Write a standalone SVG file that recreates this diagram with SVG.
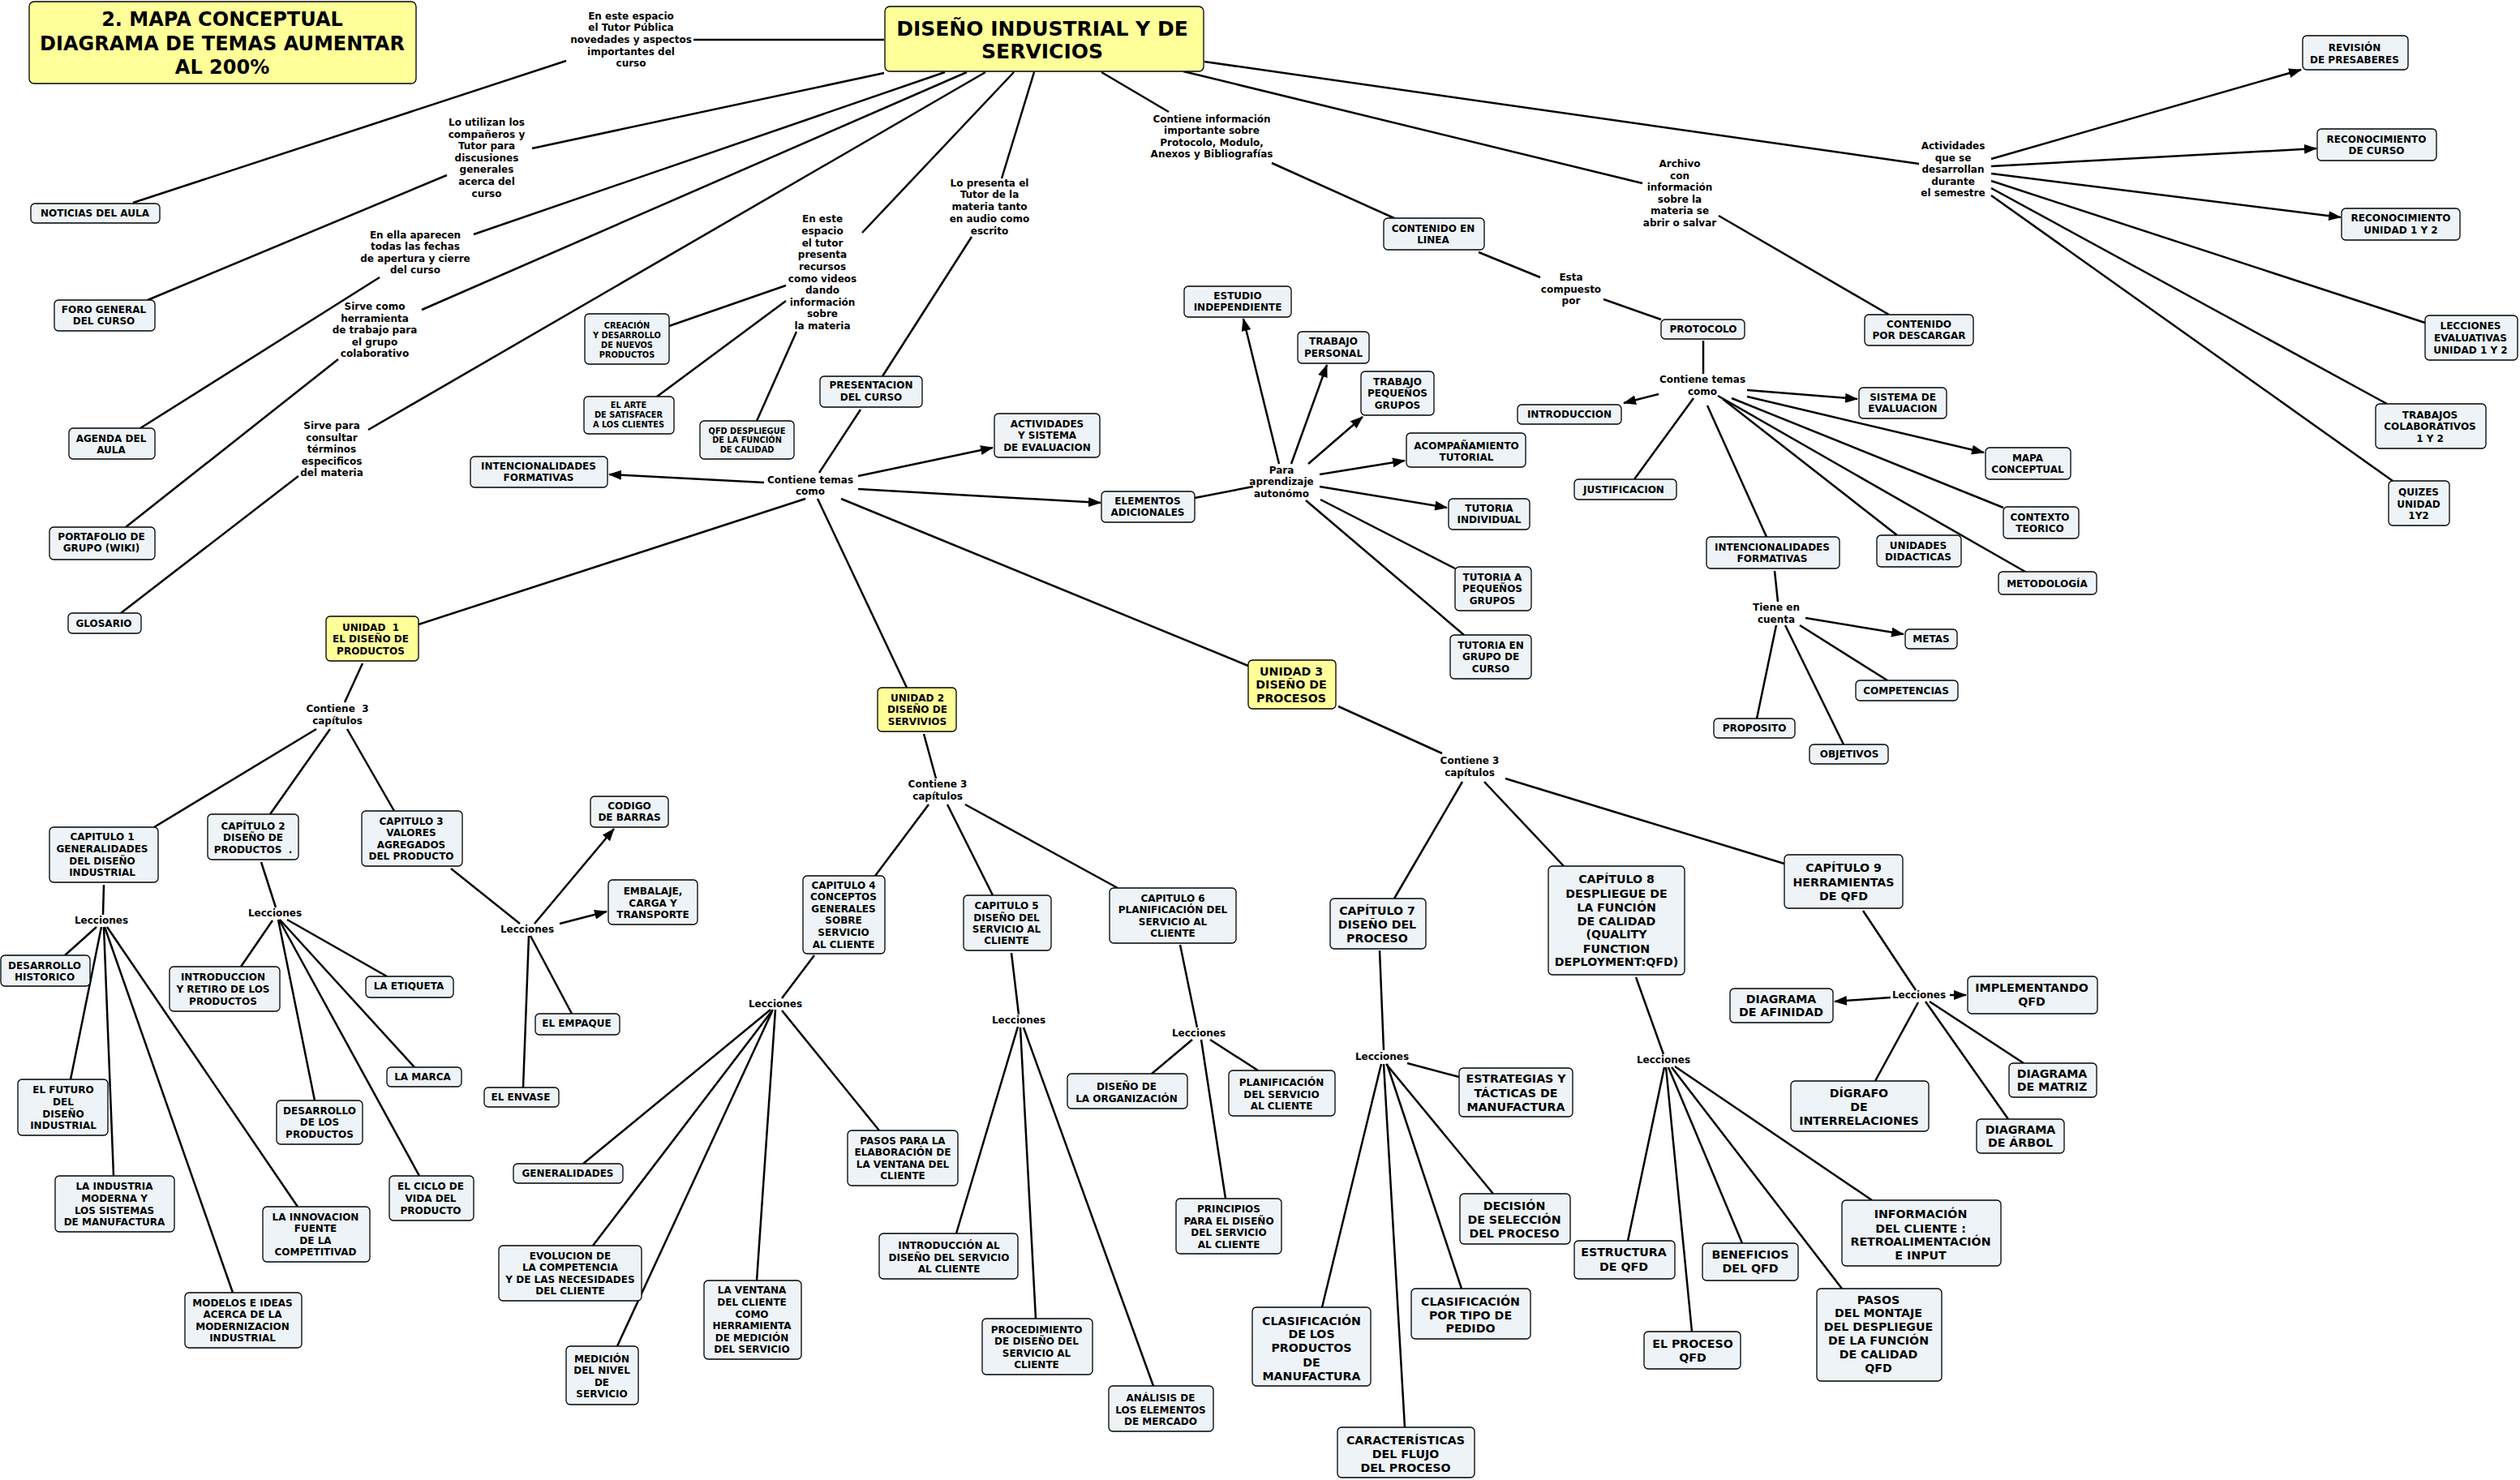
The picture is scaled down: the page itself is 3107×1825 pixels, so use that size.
<svg xmlns="http://www.w3.org/2000/svg" width="3107" height="1825" viewBox="0 0 3107 1825">
<defs>
<marker id="ah" viewBox="0 0 16 12" refX="15" refY="6" markerWidth="16" markerHeight="12" markerUnits="userSpaceOnUse" orient="auto"><path d="M0,0 L16,6 L0,12 z" fill="#000"/></marker>
<style>
.nd rect{fill:#edf3f6;stroke:#000;stroke-width:1.3}
.yl rect{fill:#ffff99;stroke:#000;stroke-width:1.3}
text{font-family:"DejaVu Sans",Verdana,sans-serif;font-weight:bold;text-anchor:middle;fill:#000}
.n{font-size:12px}.lk{font-size:12px}.sm{font-size:9.8px}.md{font-size:14.2px}.tt{font-size:24px}.mn{font-size:25px}
#connectors line{stroke:#000;stroke-width:2.5;fill:none}
</style>
</defs>
<rect width="3107" height="1825" fill="#fff"/>
<g id="connectors">
<line x1="855" y1="49" x2="1090" y2="49"/>
<line x1="698" y1="75" x2="164" y2="250"/>
<line x1="1090" y1="90" x2="656" y2="183"/>
<line x1="551" y1="216" x2="182" y2="370"/>
<line x1="1165" y1="89" x2="584" y2="289"/>
<line x1="468" y1="342" x2="173" y2="528"/>
<line x1="1192" y1="89" x2="520" y2="382"/>
<line x1="417" y1="443" x2="155" y2="650"/>
<line x1="1215" y1="89" x2="454" y2="530"/>
<line x1="368" y1="587" x2="149" y2="756"/>
<line x1="1250" y1="89" x2="1063" y2="287"/>
<line x1="969" y1="352" x2="825" y2="402"/>
<line x1="969" y1="371" x2="810" y2="489"/>
<line x1="982" y1="409" x2="933" y2="519"/>
<line x1="1275" y1="89" x2="1235" y2="220"/>
<line x1="1198" y1="292" x2="1088" y2="464"/>
<line x1="1061" y1="505" x2="1010" y2="583"/>
<line x1="942" y1="595" x2="751" y2="585" marker-end="url(#ah)"/>
<line x1="1058" y1="587" x2="1224" y2="552" marker-end="url(#ah)"/>
<line x1="1058" y1="603" x2="1357" y2="620" marker-end="url(#ah)"/>
<line x1="993" y1="615" x2="516" y2="770"/>
<line x1="1008" y1="615" x2="1118" y2="848"/>
<line x1="1037" y1="615" x2="1539" y2="821"/>
<line x1="1473" y1="614" x2="1545" y2="600"/>
<line x1="1577" y1="572" x2="1533" y2="393" marker-end="url(#ah)"/>
<line x1="1592" y1="572" x2="1636" y2="450" marker-end="url(#ah)"/>
<line x1="1613" y1="572" x2="1680" y2="514" marker-end="url(#ah)"/>
<line x1="1627" y1="585" x2="1732" y2="568" marker-end="url(#ah)"/>
<line x1="1627" y1="600" x2="1784" y2="626" marker-end="url(#ah)"/>
<line x1="1628" y1="616" x2="1794" y2="701"/>
<line x1="1610" y1="617" x2="1805" y2="783"/>
<line x1="1358" y1="89" x2="1441" y2="138"/>
<line x1="1568" y1="201" x2="1719" y2="269"/>
<line x1="1823" y1="311" x2="1899" y2="342"/>
<line x1="1977" y1="369" x2="2048" y2="394"/>
<line x1="2100" y1="420" x2="2100" y2="461"/>
<line x1="2045" y1="486" x2="2002" y2="497" marker-end="url(#ah)"/>
<line x1="2088" y1="491" x2="2015" y2="591"/>
<line x1="2154" y1="481" x2="2290" y2="492" marker-end="url(#ah)"/>
<line x1="2154" y1="489" x2="2446" y2="558" marker-end="url(#ah)"/>
<line x1="2135" y1="491" x2="2470" y2="626"/>
<line x1="2124" y1="492" x2="2339" y2="660"/>
<line x1="2118" y1="488" x2="2497" y2="705"/>
<line x1="2105" y1="500" x2="2178" y2="662"/>
<line x1="2188" y1="704" x2="2192" y2="742"/>
<line x1="2226" y1="762" x2="2347" y2="782" marker-end="url(#ah)"/>
<line x1="2219" y1="771" x2="2327" y2="839"/>
<line x1="2201" y1="771" x2="2273" y2="918"/>
<line x1="2190" y1="771" x2="2166" y2="886"/>
<line x1="1459" y1="88" x2="2025" y2="226"/>
<line x1="2119" y1="266" x2="2329" y2="388"/>
<line x1="1485" y1="76" x2="2366" y2="202"/>
<line x1="2455" y1="196" x2="2837" y2="86" marker-end="url(#ah)"/>
<line x1="2455" y1="205" x2="2856" y2="183" marker-end="url(#ah)"/>
<line x1="2455" y1="214" x2="2886" y2="268" marker-end="url(#ah)"/>
<line x1="2455" y1="223" x2="2990" y2="398"/>
<line x1="2455" y1="232" x2="2943" y2="498"/>
<line x1="2455" y1="241" x2="2950" y2="593"/>
<line x1="447" y1="818" x2="425" y2="866"/>
<line x1="390" y1="899" x2="190" y2="1020"/>
<line x1="407" y1="899" x2="333" y2="1004"/>
<line x1="428" y1="899" x2="486" y2="1000"/>
<line x1="128" y1="1091" x2="127" y2="1128"/>
<line x1="119" y1="1143" x2="80" y2="1178"/>
<line x1="125" y1="1143" x2="87" y2="1331"/>
<line x1="128" y1="1143" x2="140" y2="1450"/>
<line x1="129" y1="1143" x2="287" y2="1594"/>
<line x1="132" y1="1143" x2="367" y2="1488"/>
<line x1="322" y1="1063" x2="340" y2="1119"/>
<line x1="336" y1="1135" x2="297" y2="1192"/>
<line x1="354" y1="1134" x2="477" y2="1204"/>
<line x1="345" y1="1134" x2="511" y2="1316"/>
<line x1="343" y1="1134" x2="388" y2="1357"/>
<line x1="344" y1="1134" x2="517" y2="1450"/>
<line x1="556" y1="1071" x2="641" y2="1139"/>
<line x1="659" y1="1139" x2="757" y2="1022" marker-end="url(#ah)"/>
<line x1="690" y1="1139" x2="748" y2="1124" marker-end="url(#ah)"/>
<line x1="654" y1="1154" x2="705" y2="1250"/>
<line x1="652" y1="1154" x2="645" y2="1341"/>
<line x1="1139" y1="905" x2="1154" y2="960"/>
<line x1="1145" y1="992" x2="1079" y2="1080"/>
<line x1="1168" y1="992" x2="1224" y2="1104"/>
<line x1="1190" y1="992" x2="1378" y2="1095"/>
<line x1="1004" y1="1178" x2="964" y2="1231"/>
<line x1="950" y1="1245" x2="719" y2="1435"/>
<line x1="953" y1="1245" x2="731" y2="1536"/>
<line x1="952" y1="1247" x2="761" y2="1660"/>
<line x1="956" y1="1245" x2="933" y2="1579"/>
<line x1="964" y1="1246" x2="1084" y2="1394"/>
<line x1="1247" y1="1175" x2="1256" y2="1251"/>
<line x1="1255" y1="1266" x2="1179" y2="1521"/>
<line x1="1258" y1="1267" x2="1277" y2="1626"/>
<line x1="1262" y1="1267" x2="1422" y2="1709"/>
<line x1="1455" y1="1165" x2="1476" y2="1267"/>
<line x1="1470" y1="1282" x2="1420" y2="1324"/>
<line x1="1492" y1="1282" x2="1551" y2="1320"/>
<line x1="1481" y1="1282" x2="1511" y2="1478"/>
<line x1="1650" y1="871" x2="1778" y2="929"/>
<line x1="1803" y1="964" x2="1719" y2="1108"/>
<line x1="1830" y1="964" x2="1928" y2="1068"/>
<line x1="1856" y1="960" x2="2200" y2="1065"/>
<line x1="1701" y1="1172" x2="1706" y2="1295"/>
<line x1="1735" y1="1311" x2="1799" y2="1328"/>
<line x1="1709" y1="1312" x2="1841" y2="1472"/>
<line x1="1710" y1="1312" x2="1802" y2="1589"/>
<line x1="1703" y1="1312" x2="1630" y2="1612"/>
<line x1="1706" y1="1312" x2="1732" y2="1760"/>
<line x1="2017" y1="1205" x2="2051" y2="1300"/>
<line x1="2052" y1="1316" x2="2007" y2="1530"/>
<line x1="2054" y1="1316" x2="2086" y2="1642"/>
<line x1="2057" y1="1316" x2="2148" y2="1533"/>
<line x1="2061" y1="1316" x2="2271" y2="1589"/>
<line x1="2065" y1="1315" x2="2308" y2="1480"/>
<line x1="2297" y1="1123" x2="2362" y2="1221"/>
<line x1="2331" y1="1230" x2="2262" y2="1235" marker-end="url(#ah)"/>
<line x1="2404" y1="1227" x2="2424" y2="1227" marker-end="url(#ah)"/>
<line x1="2365" y1="1236" x2="2312" y2="1333"/>
<line x1="2379" y1="1235" x2="2495" y2="1311"/>
<line x1="2374" y1="1235" x2="2476" y2="1380"/>
</g>
<g id="n-title" class="yl"><rect x="36" y="2" width="477" height="101" rx="6"/><text class="tt"><tspan x="274" y="31.6">2. MAPA CONCEPTUAL</tspan><tspan x="274" y="61.6">DIAGRAMA DE TEMAS AUMENTAR</tspan><tspan x="274" y="90.6">AL 200%</tspan></text></g>
<g id="n-main" class="yl"><rect x="1091" y="8" width="393" height="80" rx="6"/><text class="mn"><tspan x="1285" y="44">DISEÑO INDUSTRIAL Y DE</tspan><tspan x="1285" y="72.4">SERVICIOS</tspan></text></g>
<g id="n-noticias" class="nd"><rect x="38" y="251" width="159" height="24" rx="5"/><text class="n"><tspan x="117" y="267.3">NOTICIAS DEL AULA</tspan></text></g>
<g id="n-foro" class="nd"><rect x="67" y="370" width="124" height="38" rx="5"/><text class="n"><tspan x="128" y="386.3">FORO GENERAL</tspan><tspan x="128" y="400.3">DEL CURSO</tspan></text></g>
<g id="n-agenda" class="nd"><rect x="85" y="528" width="106" height="38" rx="5"/><text class="n"><tspan x="137" y="545.3">AGENDA DEL</tspan><tspan x="137" y="559.3">AULA</tspan></text></g>
<g id="n-portafolio" class="nd"><rect x="61" y="650" width="130" height="40" rx="5"/><text class="n"><tspan x="125" y="666.3">PORTAFOLIO DE</tspan><tspan x="125" y="680.3">GRUPO (WIKI)</tspan></text></g>
<g id="n-glosario" class="nd"><rect x="84" y="756" width="90" height="25" rx="5"/><text class="n"><tspan x="128" y="773.3">GLOSARIO</tspan></text></g>
<g id="n-intenc1" class="nd"><rect x="580" y="563" width="169" height="38" rx="5"/><text class="n"><tspan x="664" y="579.3">INTENCIONALIDADES</tspan><tspan x="664" y="593.3">FORMATIVAS</tspan></text></g>
<g id="n-creacion" class="nd"><rect x="721" y="387" width="104" height="62" rx="5"/><text class="sm"><tspan x="773" y="404.5">CREACIÓN</tspan><tspan x="773" y="417">Y DESARROLLO</tspan><tspan x="773" y="429.1">DE NUEVOS</tspan><tspan x="773" y="441.2">PRODUCTOS</tspan></text></g>
<g id="n-arte" class="nd"><rect x="720" y="489" width="111" height="46" rx="5"/><text class="sm"><tspan x="775" y="503">EL ARTE</tspan><tspan x="775" y="515.1">DE SATISFACER</tspan><tspan x="775" y="527.1">A LOS CLIENTES</tspan></text></g>
<g id="n-qfd" class="nd"><rect x="863" y="519" width="116" height="47" rx="5"/><text class="sm"><tspan x="921" y="534.5">QFD DESPLIEGUE</tspan><tspan x="921" y="546.2">DE LA FUNCIÓN</tspan><tspan x="921" y="558.2">DE CALIDAD</tspan></text></g>
<g id="n-presentacion" class="nd"><rect x="1011" y="464" width="126" height="38" rx="5"/><text class="n"><tspan x="1074" y="479.3">PRESENTACION</tspan><tspan x="1074" y="494.3">DEL CURSO</tspan></text></g>
<g id="n-actividades" class="nd"><rect x="1226" y="510" width="130" height="54" rx="5"/><text class="n"><tspan x="1291" y="526.8">ACTIVIDADES</tspan><tspan x="1291" y="541.3">Y SISTEMA</tspan><tspan x="1291" y="555.9">DE EVALUACION</tspan></text></g>
<g id="n-elementos" class="nd"><rect x="1358" y="606" width="115" height="38" rx="5"/><text class="n"><tspan x="1415" y="622.3">ELEMENTOS</tspan><tspan x="1415" y="636.3">ADICIONALES</tspan></text></g>
<g id="n-estudio" class="nd"><rect x="1460" y="353" width="132" height="38" rx="5"/><text class="n"><tspan x="1526" y="368.8">ESTUDIO</tspan><tspan x="1526" y="383.3">INDEPENDIENTE</tspan></text></g>
<g id="n-trabajopersonal" class="nd"><rect x="1600" y="409" width="88" height="39" rx="5"/><text class="n"><tspan x="1644" y="425.3">TRABAJO</tspan><tspan x="1644" y="440.3">PERSONAL</tspan></text></g>
<g id="n-trabajopeq" class="nd"><rect x="1678" y="458" width="90" height="54" rx="5"/><text class="n"><tspan x="1723" y="475">TRABAJO</tspan><tspan x="1723" y="489.3">PEQUEÑOS</tspan><tspan x="1723" y="503.8">GRUPOS</tspan></text></g>
<g id="n-acompanamiento" class="nd"><rect x="1734" y="534" width="147" height="42" rx="5"/><text class="n"><tspan x="1808" y="554">ACOMPAÑAMIENTO</tspan><tspan x="1808" y="568.3">TUTORIAL</tspan></text></g>
<g id="n-tutoriaind" class="nd"><rect x="1786" y="615" width="100" height="38" rx="5"/><text class="n"><tspan x="1836" y="631.3">TUTORIA</tspan><tspan x="1836" y="645.3">INDIVIDUAL</tspan></text></g>
<g id="n-tutoriapeq" class="nd"><rect x="1794" y="699" width="94" height="54" rx="5"/><text class="n"><tspan x="1840" y="716.3">TUTORIA A</tspan><tspan x="1840" y="730.3">PEQUEÑOS</tspan><tspan x="1840" y="744.7">GRUPOS</tspan></text></g>
<g id="n-tutoriagrupo" class="nd"><rect x="1788" y="783" width="100" height="54" rx="5"/><text class="n"><tspan x="1838" y="800">TUTORIA EN</tspan><tspan x="1838" y="814.3">GRUPO DE</tspan><tspan x="1838" y="828.8">CURSO</tspan></text></g>
<g id="n-contenidolinea" class="nd"><rect x="1706" y="269" width="124" height="39" rx="5"/><text class="n"><tspan x="1767" y="286">CONTENIDO EN</tspan><tspan x="1767" y="300.3">LINEA</tspan></text></g>
<g id="n-protocolo" class="nd"><rect x="2048" y="394" width="103" height="24" rx="5"/><text class="n"><tspan x="2100" y="410">PROTOCOLO</tspan></text></g>
<g id="n-introduccion" class="nd"><rect x="1871" y="499" width="128" height="24" rx="5"/><text class="n"><tspan x="1935" y="515.1">INTRODUCCION</tspan></text></g>
<g id="n-justificacion" class="nd"><rect x="1941" y="591" width="126" height="25" rx="5"/><text class="n"><tspan x="2002" y="608.3">JUSTIFICACION</tspan></text></g>
<g id="n-sistema" class="nd"><rect x="2292" y="478" width="108" height="38" rx="5"/><text class="n"><tspan x="2346" y="493.7">SISTEMA DE</tspan><tspan x="2346" y="508.3">EVALUACION</tspan></text></g>
<g id="n-mapa" class="nd"><rect x="2448" y="552" width="105" height="39" rx="5"/><text class="n"><tspan x="2500" y="569.3">MAPA</tspan><tspan x="2500" y="583.3">CONCEPTUAL</tspan></text></g>
<g id="n-contexto" class="nd"><rect x="2470" y="625" width="93" height="39" rx="5"/><text class="n"><tspan x="2515" y="642">CONTEXTO</tspan><tspan x="2515" y="656.3">TEORICO</tspan></text></g>
<g id="n-unidades" class="nd"><rect x="2314" y="660" width="104" height="39" rx="5"/><text class="n"><tspan x="2365" y="677">UNIDADES</tspan><tspan x="2365" y="691.1">DIDACTICAS</tspan></text></g>
<g id="n-metodologia" class="nd"><rect x="2464" y="705" width="121" height="28" rx="5"/><text class="n"><tspan x="2524" y="723.8">METODOLOGÍA</tspan></text></g>
<g id="n-intenc2" class="nd"><rect x="2104" y="662" width="164" height="39" rx="5"/><text class="n"><tspan x="2185" y="679">INTENCIONALIDADES</tspan><tspan x="2185" y="693.3">FORMATIVAS</tspan></text></g>
<g id="n-metas" class="nd"><rect x="2349" y="776" width="64" height="24" rx="5"/><text class="n"><tspan x="2381" y="792.3">METAS</tspan></text></g>
<g id="n-competencias" class="nd"><rect x="2288" y="839" width="126" height="25" rx="5"/><text class="n"><tspan x="2350" y="855.8">COMPETENCIAS</tspan></text></g>
<g id="n-objetivos" class="nd"><rect x="2231" y="918" width="97" height="24" rx="5"/><text class="n"><tspan x="2280" y="934.3">OBJETIVOS</tspan></text></g>
<g id="n-proposito" class="nd"><rect x="2113" y="886" width="100" height="24" rx="5"/><text class="n"><tspan x="2163" y="902.3">PROPOSITO</tspan></text></g>
<g id="n-descargar" class="nd"><rect x="2299" y="388" width="134" height="38" rx="5"/><text class="n"><tspan x="2366" y="403.8">CONTENIDO</tspan><tspan x="2366" y="418.3">POR DESCARGAR</tspan></text></g>
<g id="n-revision" class="nd"><rect x="2839" y="44" width="130" height="42" rx="5"/><text class="n"><tspan x="2903" y="63.3">REVISIÓN</tspan><tspan x="2903" y="77.8">DE PRESABERES</tspan></text></g>
<g id="n-reconcurso" class="nd"><rect x="2857" y="159" width="147" height="39" rx="5"/><text class="n"><tspan x="2930" y="175.9">RECONOCIMIENTO</tspan><tspan x="2930" y="190.3">DE CURSO</tspan></text></g>
<g id="n-reconunidad" class="nd"><rect x="2887" y="257" width="146" height="39" rx="5"/><text class="n"><tspan x="2960" y="273.3">RECONOCIMIENTO</tspan><tspan x="2960" y="288.3">UNIDAD 1 Y 2</tspan></text></g>
<g id="n-lecciones" class="nd"><rect x="2990" y="389" width="114" height="55" rx="5"/><text class="n"><tspan x="3046" y="406.3">LECCIONES</tspan><tspan x="3046" y="421.3">EVALUATIVAS</tspan><tspan x="3046" y="436.3">UNIDAD 1 Y 2</tspan></text></g>
<g id="n-trabajoscol" class="nd"><rect x="2929" y="498" width="136" height="55" rx="5"/><text class="n"><tspan x="2996" y="515.9">TRABAJOS</tspan><tspan x="2996" y="530.3">COLABORATIVOS</tspan><tspan x="2996" y="545">1 Y 2</tspan></text></g>
<g id="n-quizes" class="nd"><rect x="2945" y="593" width="75" height="55" rx="5"/><text class="n"><tspan x="2982" y="610.9">QUIZES</tspan><tspan x="2982" y="625.7">UNIDAD</tspan><tspan x="2982" y="640.3">1Y2</tspan></text></g>
<g id="n-unidad1" class="yl"><rect x="402" y="760" width="114" height="55" rx="5"/><text class="n" xml:space="preserve"><tspan x="457" y="777.8">UNIDAD  1</tspan><tspan x="457" y="792.3">EL DISEÑO DE</tspan><tspan x="457" y="807">PRODUCTOS</tspan></text></g>
<g id="n-cap1" class="nd"><rect x="61" y="1020" width="134" height="68" rx="5"/><text class="n"><tspan x="126" y="1036.3">CAPITULO 1</tspan><tspan x="126" y="1051.3">GENERALIDADES</tspan><tspan x="126" y="1066.1">DEL DISEÑO</tspan><tspan x="126" y="1080.3">INDUSTRIAL</tspan></text></g>
<g id="n-cap2" class="nd"><rect x="256" y="1004" width="112" height="56" rx="5"/><text class="n" xml:space="preserve"><tspan x="312" y="1023.3">CAPÍTULO 2</tspan><tspan x="312" y="1037.3">DISEÑO DE</tspan><tspan x="312" y="1052.3">PRODUCTOS  .</tspan></text></g>
<g id="n-cap3" class="nd"><rect x="446" y="1000" width="124" height="68" rx="5"/><text class="n"><tspan x="507" y="1017.1">CAPITULO 3</tspan><tspan x="507" y="1031.3">VALORES</tspan><tspan x="507" y="1045.9">AGREGADOS</tspan><tspan x="507" y="1060.3">DEL PRODUCTO</tspan></text></g>
<g id="n-codigo" class="nd"><rect x="728" y="982" width="96" height="38" rx="5"/><text class="n"><tspan x="776" y="998">CODIGO</tspan><tspan x="776" y="1012.3">DE BARRAS</tspan></text></g>
<g id="n-embalaje" class="nd"><rect x="750" y="1085" width="110" height="55" rx="5"/><text class="n"><tspan x="805" y="1103">EMBALAJE,</tspan><tspan x="805" y="1117.8">CARGA Y</tspan><tspan x="805" y="1132.3">TRANSPORTE</tspan></text></g>
<g id="n-empaque" class="nd"><rect x="660" y="1250" width="104" height="26" rx="5"/><text class="n"><tspan x="711" y="1266.3">EL EMPAQUE</tspan></text></g>
<g id="n-envase" class="nd"><rect x="597" y="1341" width="92" height="24" rx="5"/><text class="n"><tspan x="642" y="1357">EL ENVASE</tspan></text></g>
<g id="n-deshist" class="nd"><rect x="1" y="1178" width="110" height="38" rx="5"/><text class="n"><tspan x="55" y="1194.8">DESARROLLO</tspan><tspan x="55" y="1209.1">HISTORICO</tspan></text></g>
<g id="n-futuro" class="nd"><rect x="22" y="1331" width="111" height="69" rx="5"/><text class="n"><tspan x="78" y="1348.3">EL FUTURO</tspan><tspan x="78" y="1363.3">DEL</tspan><tspan x="78" y="1378.1">DISEÑO</tspan><tspan x="78" y="1392.3">INDUSTRIAL</tspan></text></g>
<g id="n-industria" class="nd"><rect x="68" y="1450" width="147" height="69" rx="5"/><text class="n"><tspan x="141" y="1467.3">LA INDUSTRIA</tspan><tspan x="141" y="1482.1">MODERNA Y</tspan><tspan x="141" y="1496.8">LOS SISTEMAS</tspan><tspan x="141" y="1511.3">DE MANUFACTURA</tspan></text></g>
<g id="n-modelos" class="nd"><rect x="228" y="1594" width="144" height="68" rx="5"/><text class="n"><tspan x="299" y="1610.8">MODELOS E IDEAS</tspan><tspan x="299" y="1625.3">ACERCA DE LA</tspan><tspan x="299" y="1639.9">MODERNIZACION</tspan><tspan x="299" y="1654.3">INDUSTRIAL</tspan></text></g>
<g id="n-innovacion" class="nd"><rect x="324" y="1488" width="132" height="68" rx="5"/><text class="n"><tspan x="389" y="1504.8">LA INNOVACION</tspan><tspan x="389" y="1519.3">FUENTE</tspan><tspan x="389" y="1533.9">DE LA</tspan><tspan x="389" y="1548.3">COMPETITIVAD</tspan></text></g>
<g id="n-introretiro" class="nd"><rect x="209" y="1192" width="136" height="55" rx="5"/><text class="n"><tspan x="275" y="1209.3">INTRODUCCION</tspan><tspan x="275" y="1224.3">Y RETIRO DE LOS</tspan><tspan x="275" y="1239">PRODUCTOS</tspan></text></g>
<g id="n-etiqueta" class="nd"><rect x="451" y="1204" width="108" height="26" rx="5"/><text class="n"><tspan x="504" y="1220.3">LA ETIQUETA</tspan></text></g>
<g id="n-marca" class="nd"><rect x="477" y="1316" width="92" height="24" rx="5"/><text class="n"><tspan x="521" y="1332.3">LA MARCA</tspan></text></g>
<g id="n-desprod" class="nd"><rect x="341" y="1357" width="106" height="54" rx="5"/><text class="n"><tspan x="394" y="1374.1">DESARROLLO</tspan><tspan x="394" y="1388.3">DE LOS</tspan><tspan x="394" y="1403.3">PRODUCTOS</tspan></text></g>
<g id="n-ciclo" class="nd"><rect x="480" y="1450" width="104" height="55" rx="5"/><text class="n"><tspan x="531" y="1467.3">EL CICLO DE</tspan><tspan x="531" y="1482.1">VIDA DEL</tspan><tspan x="531" y="1496.8">PRODUCTO</tspan></text></g>
<g id="n-unidad2" class="yl"><rect x="1082" y="848" width="97" height="54" rx="5"/><text class="n"><tspan x="1131" y="864.9">UNIDAD 2</tspan><tspan x="1131" y="879.3">DISEÑO DE</tspan><tspan x="1131" y="894.1">SERVIVIOS</tspan></text></g>
<g id="n-cap4" class="nd"><rect x="990" y="1080" width="101" height="96" rx="5"/><text class="n"><tspan x="1040" y="1096">CAPITULO 4</tspan><tspan x="1040" y="1110.3">CONCEPTOS</tspan><tspan x="1040" y="1125.3">GENERALES</tspan><tspan x="1040" y="1139.3">SOBRE</tspan><tspan x="1040" y="1154">SERVICIO</tspan><tspan x="1040" y="1168.8">AL CLIENTE</tspan></text></g>
<g id="n-cap5" class="nd"><rect x="1188" y="1104" width="108" height="68" rx="5"/><text class="n"><tspan x="1241" y="1120.9">CAPITULO 5</tspan><tspan x="1241" y="1135.7">DISEÑO DEL</tspan><tspan x="1241" y="1150.1">SERVICIO AL</tspan><tspan x="1241" y="1164.3">CLIENTE</tspan></text></g>
<g id="n-cap6" class="nd"><rect x="1368" y="1095" width="156" height="68" rx="5"/><text class="n"><tspan x="1446" y="1112">CAPITULO 6</tspan><tspan x="1446" y="1126.3">PLANIFICACIÓN DEL</tspan><tspan x="1446" y="1141.3">SERVICIO AL</tspan><tspan x="1446" y="1155.3">CLIENTE</tspan></text></g>
<g id="n-generalidades" class="nd"><rect x="633" y="1435" width="135" height="24" rx="5"/><text class="n"><tspan x="700" y="1451.3">GENERALIDADES</tspan></text></g>
<g id="n-evolucion" class="nd"><rect x="615" y="1536" width="176" height="68" rx="5"/><text class="n"><tspan x="703" y="1553">EVOLUCION DE</tspan><tspan x="703" y="1567.3">LA COMPETENCIA</tspan><tspan x="703" y="1582.1">Y DE LAS NECESIDADES</tspan><tspan x="703" y="1596.3">DEL CLIENTE</tspan></text></g>
<g id="n-medicion" class="nd"><rect x="698" y="1660" width="89" height="72" rx="5"/><text class="n"><tspan x="742" y="1679.8">MEDICIÓN</tspan><tspan x="742" y="1694.3">DEL NIVEL</tspan><tspan x="742" y="1709.3">DE</tspan><tspan x="742" y="1723.3">SERVICIO</tspan></text></g>
<g id="n-ventana" class="nd"><rect x="868" y="1579" width="120" height="97" rx="5"/><text class="n"><tspan x="927" y="1595.3">LA VENTANA</tspan><tspan x="927" y="1610">DEL CLIENTE</tspan><tspan x="927" y="1624.8">COMO</tspan><tspan x="927" y="1639.1">HERRAMIENTA</tspan><tspan x="927" y="1653.9">DE MEDICIÓN</tspan><tspan x="927" y="1668.3">DEL SERVICIO</tspan></text></g>
<g id="n-pasospara" class="nd"><rect x="1045" y="1394" width="136" height="68" rx="5"/><text class="n"><tspan x="1113" y="1410.8">PASOS PARA LA</tspan><tspan x="1113" y="1425.3">ELABORACIÓN DE</tspan><tspan x="1113" y="1440.3">LA VENTANA DEL</tspan><tspan x="1113" y="1454.3">CLIENTE</tspan></text></g>
<g id="n-introdiseno" class="nd"><rect x="1084" y="1521" width="171" height="56" rx="5"/><text class="n"><tspan x="1170" y="1540.3">INTRODUCCIÓN AL</tspan><tspan x="1170" y="1555">DISEÑO DEL SERVICIO</tspan><tspan x="1170" y="1569.3">AL CLIENTE</tspan></text></g>
<g id="n-procedimiento" class="nd"><rect x="1211" y="1626" width="136" height="69" rx="5"/><text class="n"><tspan x="1278" y="1643.9">PROCEDIMIENTO</tspan><tspan x="1278" y="1658.3">DE DISEÑO DEL</tspan><tspan x="1278" y="1673">SERVICIO AL</tspan><tspan x="1278" y="1687.3">CLIENTE</tspan></text></g>
<g id="n-analisis" class="nd"><rect x="1367" y="1709" width="129" height="56" rx="5"/><text class="n"><tspan x="1431" y="1728.3">ANÁLISIS DE</tspan><tspan x="1431" y="1743.3">LOS ELEMENTOS</tspan><tspan x="1431" y="1757.1">DE MERCADO</tspan></text></g>
<g id="n-organizacion" class="nd"><rect x="1316" y="1324" width="148" height="43" rx="5"/><text class="n"><tspan x="1389" y="1344.3">DISEÑO DE</tspan><tspan x="1389" y="1359.3">LA ORGANIZACIÓN</tspan></text></g>
<g id="n-planificacion" class="nd"><rect x="1515" y="1320" width="131" height="56" rx="5"/><text class="n"><tspan x="1580" y="1339">PLANIFICACIÓN</tspan><tspan x="1580" y="1353.8">DEL SERVICIO</tspan><tspan x="1580" y="1368.1">AL CLIENTE</tspan></text></g>
<g id="n-principios" class="nd"><rect x="1450" y="1478" width="130" height="68" rx="5"/><text class="n"><tspan x="1515" y="1495.3">PRINCIPIOS</tspan><tspan x="1515" y="1510">PARA EL DISEÑO</tspan><tspan x="1515" y="1524.3">DEL SERVICIO</tspan><tspan x="1515" y="1539.1">AL CLIENTE</tspan></text></g>
<g id="n-unidad3" class="yl"><rect x="1539" y="814" width="108" height="60" rx="5"/><text class="md"><tspan x="1592" y="832.6">UNIDAD 3</tspan><tspan x="1592" y="849.3">DISEÑO DE</tspan><tspan x="1592" y="866">PROCESOS</tspan></text></g>
<g id="n-cap7" class="nd"><rect x="1640" y="1108" width="118" height="62" rx="5"/><text class="md"><tspan x="1698" y="1128">CAPÍTULO 7</tspan><tspan x="1698" y="1145">DISEÑO DEL</tspan><tspan x="1698" y="1162">PROCESO</tspan></text></g>
<g id="n-cap8" class="nd"><rect x="1909" y="1068" width="168" height="134" rx="5"/><text class="md"><tspan x="1993" y="1089">CAPÍTULO 8</tspan><tspan x="1993" y="1106.5">DESPLIEGUE DE</tspan><tspan x="1993" y="1123.6">LA FUNCIÓN</tspan><tspan x="1993" y="1140.7">DE CALIDAD</tspan><tspan x="1993" y="1157.4">(QUALITY</tspan><tspan x="1993" y="1174.5">FUNCTION</tspan><tspan x="1993" y="1191.3">DEPLOYMENT:QFD)</tspan></text></g>
<g id="n-cap9" class="nd"><rect x="2200" y="1054" width="146" height="66" rx="5"/><text class="md"><tspan x="2273" y="1075">CAPÍTULO 9</tspan><tspan x="2273" y="1092.5">HERRAMIENTAS</tspan><tspan x="2273" y="1109.6">DE QFD</tspan></text></g>
<g id="n-estrategias" class="nd"><rect x="1799" y="1317" width="140" height="60" rx="5"/><text class="md"><tspan x="1869" y="1335">ESTRATEGIAS Y</tspan><tspan x="1869" y="1352.5">TÁCTICAS DE</tspan><tspan x="1869" y="1369.6">MANUFACTURA</tspan></text></g>
<g id="n-decision" class="nd"><rect x="1800" y="1472" width="136" height="62" rx="5"/><text class="md"><tspan x="1867" y="1492">DECISIÓN</tspan><tspan x="1867" y="1509">DE SELECCIÓN</tspan><tspan x="1867" y="1526">DEL PROCESO</tspan></text></g>
<g id="n-clasifpedido" class="nd"><rect x="1740" y="1589" width="147" height="62" rx="5"/><text class="md"><tspan x="1813" y="1609.5">CLASIFICACIÓN</tspan><tspan x="1813" y="1626.7">POR TIPO DE</tspan><tspan x="1813" y="1643.4">PEDIDO</tspan></text></g>
<g id="n-clasifprod" class="nd"><rect x="1544" y="1612" width="146" height="97" rx="5"/><text class="md"><tspan x="1617" y="1633.5">CLASIFICACIÓN</tspan><tspan x="1617" y="1650">DE LOS</tspan><tspan x="1617" y="1667">PRODUCTOS</tspan><tspan x="1617" y="1684.5">DE</tspan><tspan x="1617" y="1701.6">MANUFACTURA</tspan></text></g>
<g id="n-caracteristicas" class="nd"><rect x="1649" y="1760" width="169" height="62" rx="5"/><text class="md"><tspan x="1733" y="1780.5">CARACTERÍSTICAS</tspan><tspan x="1733" y="1797.7">DEL FLUJO</tspan><tspan x="1733" y="1814.8">DEL PROCESO</tspan></text></g>
<g id="n-estructura" class="nd"><rect x="1941" y="1530" width="124" height="47" rx="5"/><text class="md"><tspan x="2002" y="1549">ESTRUCTURA</tspan><tspan x="2002" y="1566.5">DE QFD</tspan></text></g>
<g id="n-proceso" class="nd"><rect x="2027" y="1642" width="119" height="46" rx="5"/><text class="md"><tspan x="2087" y="1661.7">EL PROCESO</tspan><tspan x="2087" y="1678.5">QFD</tspan></text></g>
<g id="n-beneficios" class="nd"><rect x="2099" y="1533" width="118" height="46" rx="5"/><text class="md"><tspan x="2158" y="1551.7">BENEFICIOS</tspan><tspan x="2158" y="1568.5">DEL QFD</tspan></text></g>
<g id="n-pasosmontaje" class="nd"><rect x="2240" y="1589" width="154" height="114" rx="5"/><text class="md"><tspan x="2316" y="1607.6">PASOS</tspan><tspan x="2316" y="1624.3">DEL MONTAJE</tspan><tspan x="2316" y="1641.4">DEL DESPLIEGUE</tspan><tspan x="2316" y="1658">DE LA FUNCIÓN</tspan><tspan x="2316" y="1675">DE CALIDAD</tspan><tspan x="2316" y="1692">QFD</tspan></text></g>
<g id="n-informacion" class="nd"><rect x="2271" y="1480" width="196" height="81" rx="5"/><text class="md"><tspan x="2368" y="1502">INFORMACIÓN</tspan><tspan x="2368" y="1519.5">DEL CLIENTE :</tspan><tspan x="2368" y="1536">RETROALIMENTACIÓN</tspan><tspan x="2368" y="1553">E INPUT</tspan></text></g>
<g id="n-afinidad" class="nd"><rect x="2133" y="1219" width="127" height="42" rx="5"/><text class="md"><tspan x="2196" y="1236.5">DIAGRAMA</tspan><tspan x="2196" y="1253">DE AFINIDAD</tspan></text></g>
<g id="n-implementando" class="nd"><rect x="2426" y="1204" width="160" height="46" rx="5"/><text class="md"><tspan x="2505" y="1223">IMPLEMENTANDO</tspan><tspan x="2505" y="1239.7">QFD</tspan></text></g>
<g id="n-digrafo" class="nd"><rect x="2208" y="1333" width="170" height="62" rx="5"/><text class="md"><tspan x="2292" y="1353">DÍGRAFO</tspan><tspan x="2292" y="1370">DE</tspan><tspan x="2292" y="1387">INTERRELACIONES</tspan></text></g>
<g id="n-matriz" class="nd"><rect x="2477" y="1311" width="108" height="42" rx="5"/><text class="md"><tspan x="2530" y="1328.6">DIAGRAMA</tspan><tspan x="2530" y="1345.3">DE MATRIZ</tspan></text></g>
<g id="n-arbol" class="nd"><rect x="2437" y="1380" width="108" height="42" rx="5"/><text class="md"><tspan x="2491" y="1397.5">DIAGRAMA</tspan><tspan x="2491" y="1414">DE ÁRBOL</tspan></text></g>
<g id="links">
<text class="lk"><tspan x="778" y="23.8">En este espacio</tspan><tspan x="778" y="38.3">el Tutor Pública</tspan><tspan x="778" y="53.3">novedades y aspectos</tspan><tspan x="778" y="67.7">importantes del</tspan><tspan x="778" y="82.3">curso</tspan></text>
<text class="lk"><tspan x="600" y="155.3">Lo utilizan los</tspan><tspan x="600" y="170">compañeros y</tspan><tspan x="600" y="184.3">Tutor para</tspan><tspan x="600" y="198.8">discusiones</tspan><tspan x="600" y="213.3">generales</tspan><tspan x="600" y="228">acerca del</tspan><tspan x="600" y="242.8">curso</tspan></text>
<text class="lk"><tspan x="512" y="294.3">En ella aparecen</tspan><tspan x="512" y="308.3">todas las fechas</tspan><tspan x="512" y="323.3">de apertura y cierre</tspan><tspan x="512" y="337.3">del curso</tspan></text>
<text class="lk"><tspan x="462" y="382.3">Sirve como</tspan><tspan x="462" y="396.9">herramienta</tspan><tspan x="462" y="411.3">de trabajo para</tspan><tspan x="462" y="426">el grupo</tspan><tspan x="462" y="440.3">colaborativo</tspan></text>
<text class="lk"><tspan x="409" y="529.3">Sirve para</tspan><tspan x="409" y="543.9">consultar</tspan><tspan x="409" y="558.3">términos</tspan><tspan x="409" y="573.1">especificos</tspan><tspan x="409" y="587.3">del materia</tspan></text>
<text class="lk"><tspan x="1014" y="274.3">En este</tspan><tspan x="1014" y="289.3">espacio</tspan><tspan x="1014" y="303.9">el tutor</tspan><tspan x="1014" y="318.3">presenta</tspan><tspan x="1014" y="333">recursos</tspan><tspan x="1014" y="347.8">como videos</tspan><tspan x="1014" y="362.3">dando</tspan><tspan x="1014" y="377">información</tspan><tspan x="1014" y="391.3">sobre</tspan><tspan x="1014" y="406.3">la materia</tspan></text>
<text class="lk"><tspan x="1220" y="229.9">Lo presenta el</tspan><tspan x="1220" y="244.3">Tutor de la</tspan><tspan x="1220" y="259.1">materia tanto</tspan><tspan x="1220" y="273.9">en audio como</tspan><tspan x="1220" y="288.7">escrito</tspan></text>
<text class="lk"><tspan x="1494" y="151">Contiene información</tspan><tspan x="1494" y="165.3">importante sobre</tspan><tspan x="1494" y="180.1">Protocolo, Modulo,</tspan><tspan x="1494" y="194.3">Anexos y Bibliografías</tspan></text>
<text class="lk"><tspan x="2071" y="206.3">Archivo</tspan><tspan x="2071" y="221">con</tspan><tspan x="2071" y="235.3">información</tspan><tspan x="2071" y="250.3">sobre la</tspan><tspan x="2071" y="264.3">materia se</tspan><tspan x="2071" y="278.9">abrir o salvar</tspan></text>
<text class="lk"><tspan x="2408" y="184.3">Actividades</tspan><tspan x="2408" y="198.8">que se</tspan><tspan x="2408" y="213.3">desarrollan</tspan><tspan x="2408" y="228">durante</tspan><tspan x="2408" y="242.3">el semestre</tspan></text>
<text class="lk"><tspan x="999" y="596.3">Contiene temas</tspan><tspan x="999" y="610.3">como</tspan></text>
<text class="lk"><tspan x="1580" y="583.9">Para</tspan><tspan x="1580" y="598.3">aprendizaje</tspan><tspan x="1580" y="612.9">autonómo</tspan></text>
<text class="lk"><tspan x="1937" y="345.9">Esta</tspan><tspan x="1937" y="360.7">compuesto</tspan><tspan x="1937" y="375">por</tspan></text>
<text class="lk"><tspan x="2099" y="472.3">Contiene temas</tspan><tspan x="2099" y="487.1">como</tspan></text>
<text class="lk"><tspan x="2190" y="753.3">Tiene en</tspan><tspan x="2190" y="767.7">cuenta</tspan></text>
<text class="lk" xml:space="preserve"><tspan x="416" y="878.3">Contiene  3</tspan><tspan x="416" y="893">capítulos</tspan></text>
<text class="lk"><tspan x="125" y="1139.3">Lecciones</tspan></text>
<text class="lk"><tspan x="339" y="1130.3">Lecciones</tspan></text>
<text class="lk"><tspan x="650" y="1150.3">Lecciones</tspan></text>
<text class="lk"><tspan x="1156" y="971.2">Contiene 3</tspan><tspan x="1156" y="985.9">capítulos</tspan></text>
<text class="lk"><tspan x="956" y="1242.3">Lecciones</tspan></text>
<text class="lk"><tspan x="1256" y="1262.1">Lecciones</tspan></text>
<text class="lk"><tspan x="1478" y="1278">Lecciones</tspan></text>
<text class="lk"><tspan x="1812" y="942">Contiene 3</tspan><tspan x="1812" y="956.8">capítulos</tspan></text>
<text class="lk"><tspan x="1704" y="1307.1">Lecciones</tspan></text>
<text class="lk"><tspan x="2051" y="1311.1">Lecciones</tspan></text>
<text class="lk"><tspan x="2366" y="1231.3">Lecciones</tspan></text>
</g>
</svg>
